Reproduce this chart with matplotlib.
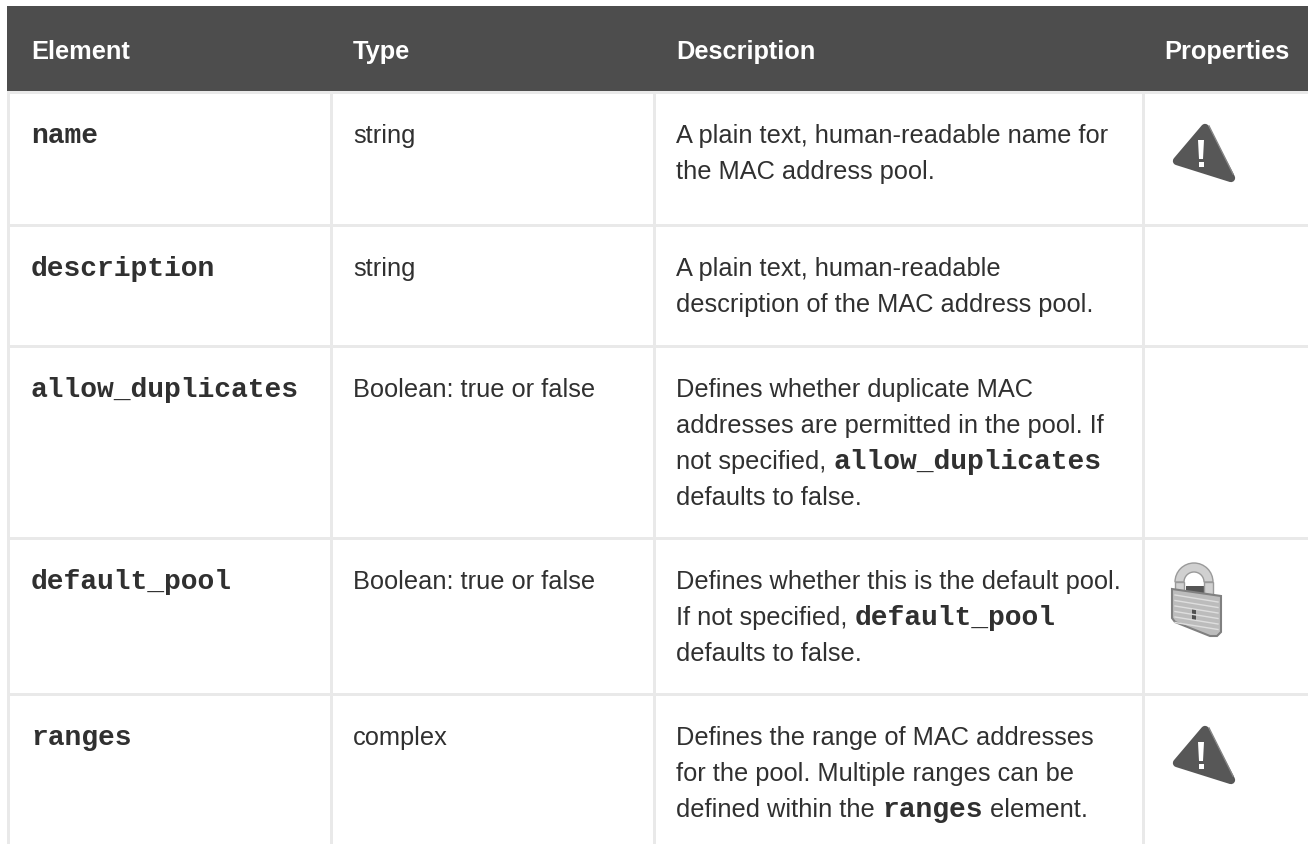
import matplotlib
matplotlib.use('Agg')
import matplotlib.pyplot as plt
from matplotlib.patches import Polygon, Rectangle, Wedge

# table content
headers = ['Element', 'Type', 'Description', 'Properties']
elements = ['name', 'description', 'allow_duplicates', 'default_pool', 'ranges']
types = ['string', 'string', 'Boolean: true or false', 'Boolean: true or false', 'complex']
descriptions = [
    [['A plain text, human-readable name for'], ['the MAC address pool.']],
    [['A plain text, human-readable'], ['description of the MAC address pool.']],
    [['Defines whether duplicate MAC'], ['addresses are permitted in the pool. If'],
     ['not specified, ', '`allow_duplicates'], ['defaults to false.']],
    [['Defines whether this is the default pool.'], ['If not specified, ', '`default_pool'],
     ['defaults to false.']],
    [['Defines the range of MAC addresses'], ['for the pool. Multiple ranges can be'],
     ['defined within the ', '`ranges', ' element.']],
]
icons = ['warn', None, None, 'lock', 'warn']

# layout in pixels
W, H = 1308, 845
col_x = [31, 353, 676, 1164]
vlines = [7, 330, 653, 1142]
hlines = [92, 225, 346, 538, 694]
line_h = 36
sans = 'Liberation Sans'
mono = 'Liberation Mono'
txt = '#303030'
border = '#e9e9e9'
dark = '#4d4d4d'
FS = 18.3   # pt at dpi 100
MFS = 20.15

fig = plt.figure(figsize=(W / 100, H / 100), dpi=100)
ax = fig.add_axes([0, 0, 1, 1])
ax.set_xlim(0, W)
ax.set_ylim(H, 0)
ax.axis('off')
rend = fig.canvas.get_renderer()


def warn_icon(x, y):
    ax.add_patch(Polygon([[x + 28, y], [x + 54, y + 50], [x, y + 33]], closed=True, fc='#575757',
                         ec='#575757', lw=6, joinstyle='round'))
    ax.plot([x + 32, x + 56], [y - 2, y + 46], color='#858585', lw=1)
    ax.add_patch(Polygon([[x + 21, y + 12], [x + 27, y + 12], [x + 26, y + 31], [x + 22, y + 31]],
                         closed=True, fc='white', ec='none'))
    ax.add_patch(Rectangle((x + 21.5, y + 34), 5, 5, fc='white', ec='none'))


def lock_icon(x, y):
    ax.add_patch(Rectangle((x + 14, y + 24), 20, 12, fc='#555555', ec='none'))
    ax.add_patch(Wedge((x + 22, y + 20), 19, 180, 360, width=9, fc='#d0d0d0', ec='#9a9a9a', lw=1))
    ax.add_patch(Rectangle((x + 3, y + 20), 9, 10, fc='#d0d0d0', ec='#9a9a9a', lw=1))
    ax.add_patch(Rectangle((x + 32, y + 20), 9, 14, fc='#d0d0d0', ec='#9a9a9a', lw=1))
    ax.add_patch(Polygon([[x, y + 27], [x + 49, y + 34], [x + 49, y + 70], [x + 45, y + 74], [x + 38, y + 74],
                          [x + 3, y + 60], [x, y + 56]], closed=True, fc='#bcbcbc', ec='#808080', lw=1.5))
    for k in range(6):
        ax.plot([x + 3, x + 46], [y + 33 + k * 5.5, y + 40 + k * 5.5], color='#dedede', lw=1)
    ax.add_patch(Rectangle((x + 20, y + 47), 4, 11, fc='#505050', ec='none'))


# header band and grid
ax.add_patch(Rectangle((7, 7), W - 7, 85, fc=dark, ec='none'))
for y in hlines:
    ax.add_patch(Rectangle((7, y), W - 7, 3, fc=border, ec='none', zorder=1))
for x in vlines:
    ax.add_patch(Rectangle((x, 92), 3, H - 92, fc=border, ec='none', zorder=1))

for x, h in zip(col_x, headers):
    ax.text(x, 59, h, color='white', fontsize=FS, fontweight='bold', family=sans, va='baseline')

for i in range(5):
    base = hlines[i] + 51
    ax.text(col_x[0], base, elements[i], color=txt, fontsize=MFS, fontweight='bold', family=mono, va='baseline')
    ax.text(col_x[1], base, types[i], color=txt, fontsize=FS, family=sans, va='baseline')
    for j, parts in enumerate(descriptions[i]):
        x = col_x[2]
        for p in parts:
            if p.startswith('`'):
                t = ax.text(x, base + j * line_h, p[1:], color=txt, fontsize=MFS, fontweight='bold', family=mono, va='baseline')
            else:
                t = ax.text(x, base + j * line_h, p, color=txt, fontsize=FS, family=sans, va='baseline')
            bb = t.get_window_extent(rend)
            x = bb.x1 + 0.5
    if icons[i] == 'warn':
        warn_icon(1177, hlines[i] + 37)
    elif icons[i] == 'lock':
        lock_icon(1172, hlines[i] + 25)

fig.savefig('out.png', dpi=100)
